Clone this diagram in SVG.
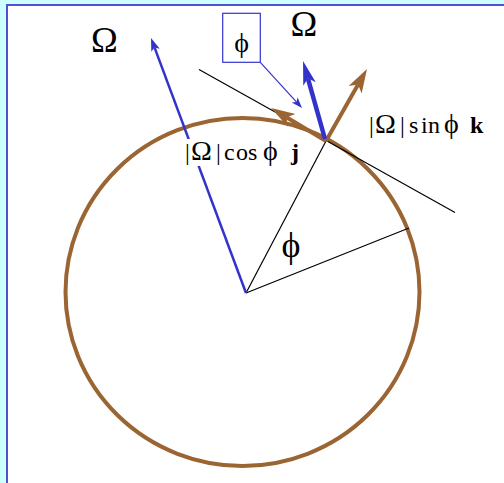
<svg xmlns="http://www.w3.org/2000/svg" width="504" height="483" viewBox="0 0 504 483">
<style>
.lbl{font-family:"Liberation Serif","DejaVu Serif",serif;fill:#000}
.big{font-size:28px}
.thin{stroke:#000;stroke-width:1.2;fill:none}
.brown{stroke:#9a6532;stroke-width:4;fill:none}
.blue{stroke:#3333cc;fill:none}
</style>
<defs>
<marker id="brownHead" markerUnits="userSpaceOnUse" viewBox="0 -9 26 18" markerWidth="26" markerHeight="18" refX="6" refY="0" orient="auto">
<path d="M0,-7.5 L24,0 L0,7.5 L6,0 Z" fill="#9a6532"/>
</marker>
<marker id="blueHead" markerUnits="userSpaceOnUse" viewBox="0 -8 26 16" markerWidth="26" markerHeight="16" refX="6" refY="0" orient="auto">
<path d="M0,-6.5 L24,0 L0,6.5 L6,0 Z" fill="#3333cc"/>
</marker>
<marker id="smallHead" markerUnits="userSpaceOnUse" viewBox="0 -6 14 12" markerWidth="14" markerHeight="12" refX="3" refY="0" orient="auto">
<path d="M0,-4.5 L13,0 L0,4.5 L3,0 Z" fill="#3333cc"/>
</marker>
<marker id="tinyHead" markerUnits="userSpaceOnUse" viewBox="0 -5 12 10" markerWidth="12" markerHeight="10" refX="3" refY="0" orient="auto">
<path d="M0,-4 L11,0 L0,4 L3,0 Z" fill="#3333cc"/>
</marker>
</defs>
<rect x="0" y="0" width="504" height="483" fill="#ccffff"/>
<rect x="7" y="5" width="520" height="520" fill="#ffffff" stroke="#5050d0" stroke-width="2"/>

<g id="sphere">
<ellipse cx="242.5" cy="292" rx="177" ry="174" class="brown" stroke-width="3.5"/>
</g>

<g id="connectors">
<line x1="246" y1="293" x2="326" y2="141" class="thin"/>
<line x1="246" y1="293" x2="409" y2="228" class="thin"/>
<line x1="199" y1="69.5" x2="455" y2="212.5" class="thin"/>
<line x1="246" y1="293" x2="154.5" y2="47.4" class="blue" stroke-width="2.5" marker-end="url(#smallHead)"/>
<line x1="326" y1="141" x2="286.5" y2="117.3" class="brown" marker-end="url(#brownHead)"/>
<line x1="326" y1="141" x2="358.1" y2="84.6" class="brown" marker-end="url(#brownHead)"/>
<line x1="325" y1="139" x2="307.9" y2="78.3" class="blue" stroke-width="4.5" marker-end="url(#blueHead)"/>
<line x1="260.3" y1="62.3" x2="296.6" y2="102.1" class="blue" stroke-width="1.2" marker-end="url(#tinyHead)"/>
</g>

<g id="label-omega-left">
<text class="lbl" x="104.5" y="52" font-size="36" text-anchor="middle">Ω</text>
</g>
<g id="label-omega-top">
<text class="lbl" x="304" y="36" font-size="36" text-anchor="middle">Ω</text>
</g>
<g id="label-phi-box">
<rect x="222.7" y="13.3" width="37.6" height="49" fill="none" stroke="#3333cc" stroke-width="1.2"/>
<text class="lbl" x="241.5" y="52" font-size="28" text-anchor="middle">ϕ</text>
</g>
<g id="label-phi-angle">
<text class="lbl" x="291" y="257" font-size="36" text-anchor="middle">ϕ</text>
</g>
<g id="label-cos">
<rect x="184" y="139" width="119" height="27" fill="#ffffff"/>
<text class="lbl" y="160" font-size="24" x="185 191 216 224 236 248 263 291">|<tspan class="big">Ω</tspan>|cos<tspan class="big">ϕ</tspan><tspan font-weight="bold">j</tspan></text>
</g>
<g id="label-sin">
<text class="lbl" y="133" font-size="24" x="369 375 400 409 421 428 444 470">|<tspan class="big">Ω</tspan>|sin<tspan class="big">ϕ</tspan><tspan font-weight="bold">k</tspan></text>
</g>
</svg>
